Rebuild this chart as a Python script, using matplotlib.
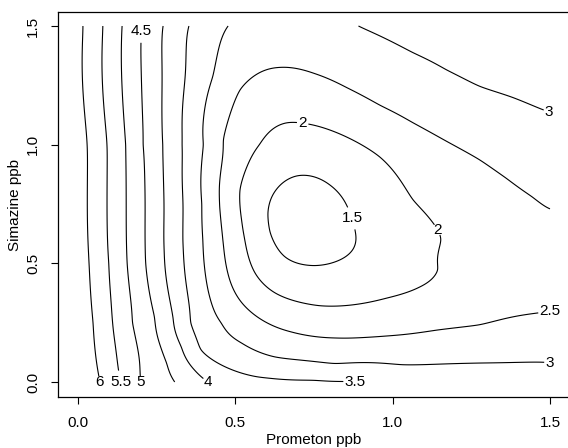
import numpy as np
import matplotlib
matplotlib.use("Agg")
import matplotlib.pyplot as plt

plt.rcParams['font.family'] = ['Liberation Sans', 'DejaVu Sans']

# ---- data: points on each contour level ----
contour_levels = [1.5, 2, 2.5, 3, 3.5, 4, 4.5, 5, 5.5, 6]

lvl6_x = [0.016, 0.029, 0.035, 0.048, 0.07]
lvl6_y = [1.5, 1.0, 0.5, 0.25, 0.0]
lvl55_x = [0.079, 0.092, 0.098, 0.11, 0.137]
lvl55_y = [1.5, 1.0, 0.5, 0.25, 0.0]
lvl5_x = [0.14, 0.152, 0.156, 0.172, 0.197]
lvl5_y = [1.5, 1.0, 0.5, 0.25, 0.0]
lvl45_x = [0.203, 0.206, 0.215, 0.244, 0.283, 0.308]
lvl45_y = [1.5, 1.0, 0.5, 0.274, 0.08, 0.0]
lvl4_x = [0.27, 0.27, 0.274, 0.303, 0.33, 0.371, 0.413]
lvl4_y = [1.5, 1.0, 0.55, 0.27, 0.148, 0.05, 0.0]
lvl35_x = [0.352, 0.33, 0.333, 0.356, 0.387, 0.444, 0.571, 0.70, 0.86]
lvl35_y = [1.5, 1.0, 0.599, 0.249, 0.135, 0.08, 0.021, 0.008, 0.003]
lvl3_x = [0.476, 0.429, 0.40, 0.394, 0.397, 0.413, 0.457, 0.521, 0.625, 0.816,
          1.03, 1.276, 1.476, 0.889, 0.98, 1.063, 1.17, 1.276, 1.38, 1.476]
lvl3_y = [1.5, 1.287, 1.0, 0.75, 0.599, 0.388, 0.249, 0.165, 0.105, 0.076,
          0.072, 0.08, 0.084, 1.5, 1.445, 1.388, 1.315, 1.245, 1.2, 1.148]
lvl25_x = [1.49, 1.444, 1.36, 1.276, 1.17, 1.063, 0.96, 0.854, 0.75, 0.641,
           0.514, 0.46, 0.45, 0.46, 0.476, 0.521, 0.584, 0.679, 0.816, 0.981,
           1.14, 1.276, 1.457]
lvl25_y = [0.734, 0.781, 0.86, 0.937, 1.015, 1.093, 1.165, 1.24, 1.3, 1.325,
           1.232, 1.02, 0.738, 0.599, 0.46, 0.333, 0.262, 0.211, 0.186, 0.194,
           0.219, 0.24, 0.29]
lvl2_x = [0.663, 0.714, 0.959, 1.063, 1.127, 1.156, 1.149, 1.086, 0.981, 0.768,
          0.625, 0.562, 0.53, 0.52, 0.514, 0.578]
lvl2_y = [1.093, 1.09, 0.949, 0.768, 0.671, 0.599, 0.473, 0.401, 0.354, 0.321,
          0.376, 0.46, 0.599, 0.684, 0.81, 1.0]
lvl15_x = [0.695, 0.80, 0.863, 0.879, 0.873, 0.816, 0.752, 0.657, 0.61, 0.603, 0.63]
lvl15_y = [0.869, 0.83, 0.713, 0.641, 0.557, 0.506, 0.49, 0.527, 0.63, 0.713, 0.81]

# spot readings between contours
spot_x = [1.5, 1.3, 1.063, 1.276, 0.87, 1.5, 1.5, 1.2, 0.95, 0.6, 0.75,
          1.5, 0.74, 1.01, 0.74, 0.74, 0.495, 1.2, 1.3]
spot_y = [1.5, 1.45, 1.24, 1.09, 1.37, 0.95, 0.0, 0.0, 0.0, 0.0, 0.0,
          0.5, 0.68, 0.65, 0.98, 0.41, 0.6, 0.5, 0.7]
spot_z = [3.25, 3.15, 2.75, 2.75, 2.75, 2.8, 3.2, 3.3, 3.45, 3.6, 3.55,
          2.3, 1.25, 1.75, 1.75, 1.75, 2.25, 2.25, 2.3]

x_ticks = [0.0, 0.5, 1.0, 1.5]
y_ticks = [0.0, 0.5, 1.0, 1.5]
x_label = "Prometon ppb"
y_label = "Simazine ppb"

# ---- smooth surface through the readings (smoothing thin-plate spline) ----
traces = [(6, lvl6_x, lvl6_y), (5.5, lvl55_x, lvl55_y), (5, lvl5_x, lvl5_y),
          (4.5, lvl45_x, lvl45_y), (4, lvl4_x, lvl4_y), (3.5, lvl35_x, lvl35_y),
          (3, lvl3_x, lvl3_y), (2.5, lvl25_x, lvl25_y), (2, lvl2_x, lvl2_y),
          (1.5, lvl15_x, lvl15_y)]
X = np.concatenate([np.asarray(xs, float) for _, xs, _ in traces] + [np.asarray(spot_x, float)])
Y = np.concatenate([np.asarray(ys, float) for _, _, ys in traces] + [np.asarray(spot_y, float)])
Z = np.concatenate([np.full(len(xs), lv, float) for lv, xs, _ in traces] + [np.asarray(spot_z, float)])


def kern(r):
    with np.errstate(divide='ignore', invalid='ignore'):
        k = r * r * np.log(r)
    return np.where(r > 0, k, 0.0)


n = len(X)
R = np.hypot(X[:, None] - X[None, :], Y[:, None] - Y[None, :])
P = np.column_stack([np.ones(n), X, Y])
M = np.zeros((n + 3, n + 3))
M[:n, :n] = kern(R) + 1.5e-3 * np.eye(n)
M[:n, n:] = P
M[n:, :n] = P.T
sol = np.linalg.solve(M, np.concatenate([Z, np.zeros(3)]))
w, a = sol[:n], sol[n:]

g = np.linspace(0.0, 1.5, 301)
GX, GY = np.meshgrid(g, g)
gr = np.hypot(GX.ravel()[:, None] - X[None, :], GY.ravel()[:, None] - Y[None, :])
GZ = (kern(gr) @ w + a[0] + a[1] * GX.ravel() + a[2] * GY.ravel()).reshape(GX.shape)

# ---- figure ----
fig = plt.figure(figsize=(5.68, 4.48), dpi=100)
ax = fig.add_axes([58 / 568, 51 / 448, 511 / 568, 385 / 448])
cs = ax.contour(GX, GY, GZ, levels=contour_levels, colors='black',
                linewidths=0.8)
label_spots = [(0.07, 0.0), (0.137, 0.0), (0.197, 0.0), (0.413, 0.0),
               (0.88, 0.0), (1.5, 0.084), (1.5, 0.29), (1.5, 1.148),
               (0.714, 1.09), (1.14, 0.64), (0.87, 0.69), (0.203, 1.478)]
texts = ax.clabel(cs, fontsize=11, inline=True, inline_spacing=2,
                  fmt=lambda v: f"{v:g}", manual=label_spots)
for t in texts:
    t.set_rotation(0)

ax.set_xlim(-0.0636, 1.5604)
ax.set_ylim(-0.0632, 1.559)
ax.set_xticks(x_ticks)
ax.set_yticks(y_ticks)
ax.set_xticklabels([f"{v:.1f}" for v in x_ticks])
ax.set_yticklabels([f"{v:.1f}" for v in y_ticks], rotation=90, va='center')
ax.tick_params(axis='both', direction='out', length=5, width=0.8,
               labelsize=11, color='black')
ax.tick_params(axis='x', pad=9)
ax.tick_params(axis='y', pad=8)
for s in ax.spines.values():
    s.set_linewidth(0.9)
ax.set_xlabel(x_label, fontsize=11, labelpad=2)
ax.set_ylabel(y_label, fontsize=11, labelpad=3)
fig.savefig("out.png", dpi=100)
